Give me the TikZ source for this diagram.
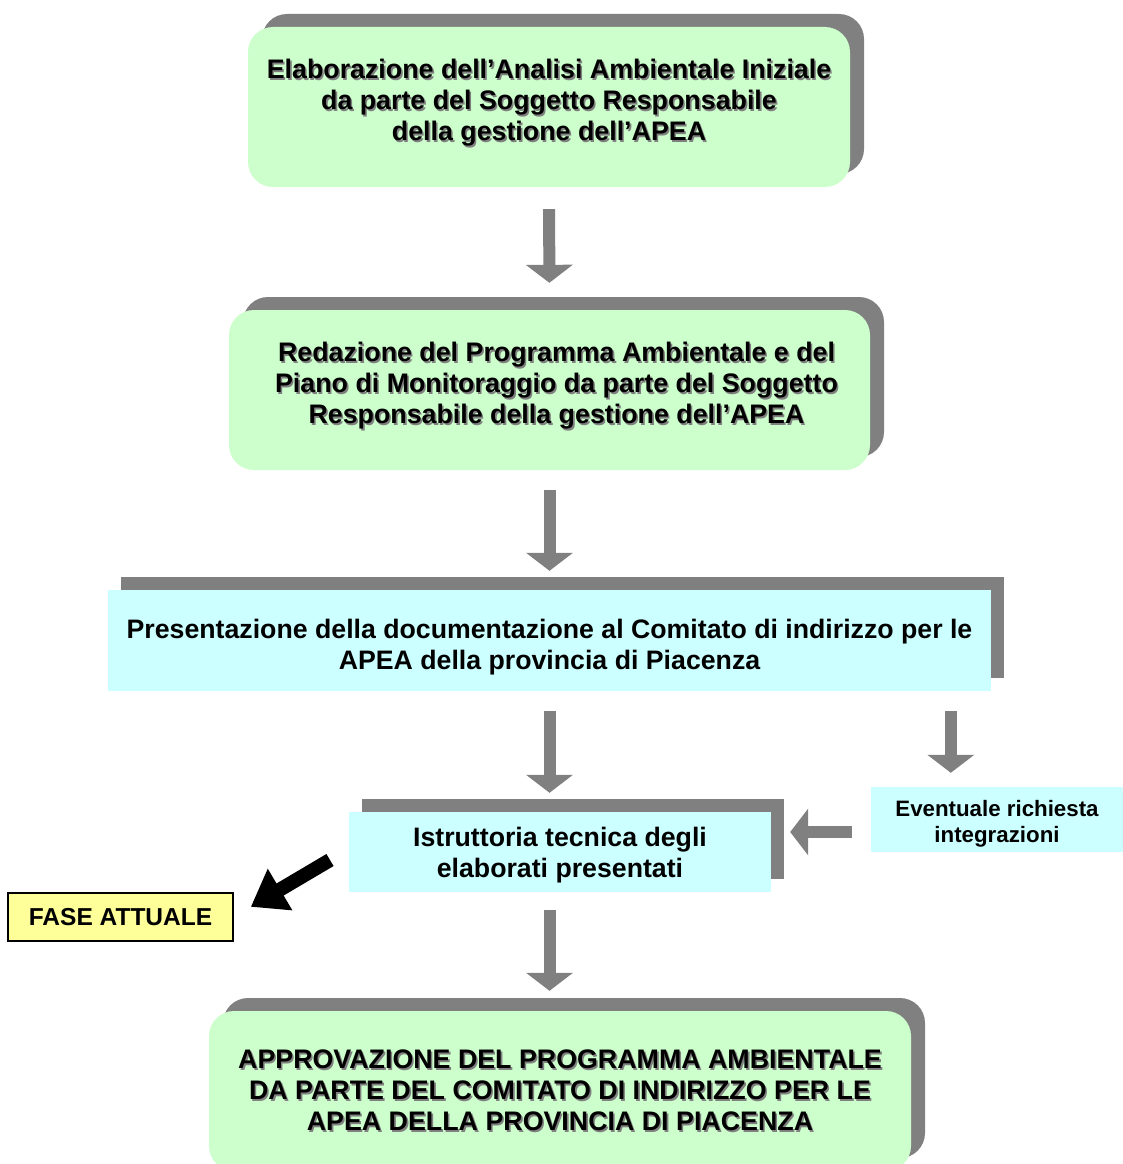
\documentclass[tikz,border=0pt]{standalone}
\usepackage{fontspec}
\setmainfont{Liberation Sans}
\usetikzlibrary{arrows.meta,shadows,calc}
\definecolor{boxgreen}{HTML}{CCFFCC}
\definecolor{boxcyan}{HTML}{CCFFFF}
\definecolor{noteyellow}{HTML}{FFFF99}
\definecolor{flowgray}{HTML}{808080}
\newcommand\shd[1]{\rlap{\kern1.6pt\raisebox{-1.6pt}{\color{flowgray}#1}}#1}
\tikzset{
  green box/.style={fill=boxgreen, rounded corners=25pt, align=center,
    font=\fontsize{26.8}{31}\selectfont\bfseries,
    drop shadow={shadow xshift=14pt, shadow yshift=13pt, fill=flowgray, opacity=1}},
  cyan box/.style={fill=boxcyan, align=center,
    font=\fontsize{26.7}{31}\selectfont\bfseries},
  flat shadow/.style={drop shadow={shadow xshift=13pt, shadow yshift=13pt, fill=flowgray, opacity=1}},
  flow/.style={draw=flowgray, line width=12pt, -{Triangle[width=46pt,length=18pt]}},
  pointer/.style={draw=black, line width=14pt, -{Triangle[width=46pt,length=34pt]}}
}
\begin{document}
\begin{tikzpicture}[x=1pt,y=-1pt]
  \useasboundingbox (0,0) rectangle (1123,1164);
  \node[green box, minimum width=602pt, minimum height=160pt,
    text height=81.2pt, text depth=13.7pt] (analisi) at (549,107)
    {\shd{Elaborazione dell’Analisi Ambientale Iniziale}\\
     \shd{da parte del Soggetto Responsabile}\\
     \shd{della gestione dell’APEA}};
  \node[green box, minimum width=641pt, minimum height=160pt,
    text height=81.2pt, text depth=13.7pt] (programma) at (549.5,390)
    {\shd{\hspace*{14pt}Redazione del Programma Ambientale e del}\\
     \shd{\hspace*{14pt}Piano di Monitoraggio da parte del Soggetto}\\
     \shd{\hspace*{14pt}Responsabile della gestione dell’APEA}};
  \node[cyan box, flat shadow, minimum width=883pt, minimum height=101pt,
    text height=64.1pt, text depth=5.6pt] (comitato) at (549.5,640.5)
    {Presentazione della documentazione al Comitato di indirizzo per le\\
     APEA della provincia di Piacenza};
  \node[cyan box, flat shadow, minimum width=422pt, minimum height=80pt,
    text height=56.1pt, text depth=5.6pt] (istruttoria) at (560,852)
    {Istruttoria tecnica degli\\ elaborati presentati};
  \node[cyan box, font=\fontsize{22.3}{26}\selectfont\bfseries,
    text height=50pt, text depth=4.7pt,
    minimum width=252pt, minimum height=65pt] (integrazioni) at (997,819.5)
    {Eventuale richiesta\\ integrazioni};
  \node[green box, minimum width=702pt, minimum height=160pt] (approvazione) at (560,1091)
    {\shd{APPROVAZIONE DEL PROGRAMMA AMBIENTALE}\\
     \shd{DA PARTE DEL COMITATO DI INDIRIZZO PER LE}\\
     \shd{APEA DELLA PROVINCIA DI PIACENZA}};
  \node[draw=black, line width=1.2pt, fill=noteyellow, minimum width=225pt, minimum height=48pt,
    font=\fontsize{24.5}{28}\selectfont\bfseries] (fase) at (120.5,917) {FASE ATTUALE};
  \coordinate (fasetail) at (330,860);
  \coordinate (evtop) at ($(integrazioni.north west)+(80,0)$);

  \begin{scope}[flow]
    \draw[shorten <=22pt, shorten >=27pt] (analisi.south) -- (programma.north);
    \draw[shorten <=20pt, shorten >=19pt] (programma.south) -- (comitato.north);
    \draw[shorten <=20pt, shorten >=19pt] (comitato.south) -- (comitato.south |- istruttoria.north);
    \draw[shorten <=20pt, shorten >=14pt] (evtop |- comitato.south) -- (evtop);
    \draw[shorten <=19pt, shorten >=19pt] ([yshift=-12.5pt]integrazioni.west)
      -- ([yshift=-12.5pt]integrazioni.west -| istruttoria.east);
    \draw[shorten <=18pt, shorten >=20pt] (comitato.south |- istruttoria.south)
      -- (comitato.south |- approvazione.north);
  \end{scope}
  \draw[pointer, shorten >=20pt] (fasetail) -- (fase.east);
\end{tikzpicture}
\end{document}
